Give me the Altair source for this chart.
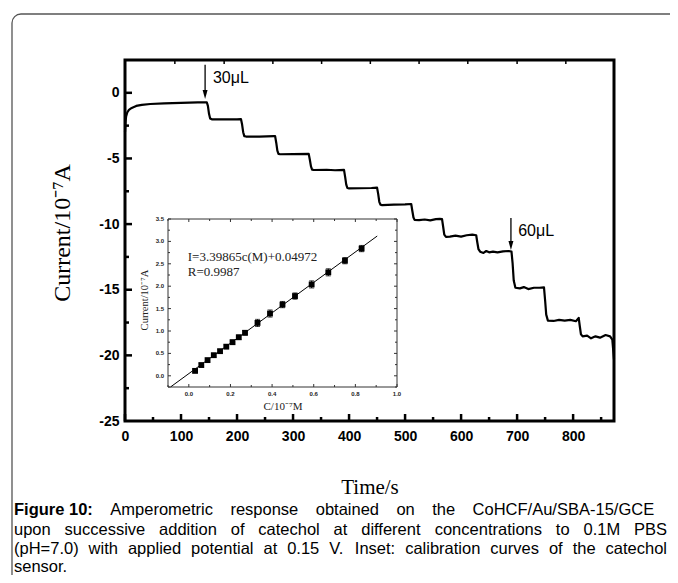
import altair as alt
import pandas as pd

# ---------------- data ----------------
time_s = [0, 1, 2, 4, 7, 12, 20, 30, 45, 70, 100, 130, 146,
          148, 150, 152, 155, 175, 200, 207,
          209, 211, 213, 216, 240, 266, 268,
          270, 272, 274, 277, 300, 328,
          330, 332, 334, 337, 360, 375, 391,
          393, 395, 397, 400, 420, 440, 450,
          452, 454, 456, 459, 480, 500, 511,
          513, 515, 517, 525, 535, 545, 555, 562, 566,
          568, 570, 573, 580, 590, 600, 610, 620, 627,
          629, 631, 634, 640, 645, 650, 657, 665, 675, 685, 690,
          692, 694, 697, 705, 712, 720, 730, 740, 748,
          750, 752, 755, 765, 775, 785, 795, 805, 810,
          812, 814, 817, 825, 832, 840, 848, 858, 866, 870, 873]
current = [-3.0, -2.2, -1.8, -1.5, -1.3, -1.15, -1.0, -0.92, -0.85, -0.8, -0.76, -0.73, -0.72,
           -1.0, -1.6, -1.95, -2.02, -2.03, -2.02, -2.0,
           -2.4, -3.0, -3.3, -3.33, -3.33, -3.3, -3.3,
           -3.8, -4.4, -4.65, -4.68, -4.67, -4.65,
           -5.1, -5.6, -5.85, -5.88, -5.86, -5.9, -5.87,
           -6.4, -7.0, -7.25, -7.28, -7.27, -7.25, -7.22,
           -7.7, -8.3, -8.52, -8.55, -8.52, -8.5, -8.47,
           -9.0, -9.5, -9.68, -9.7, -9.65, -9.72, -9.62, -9.6, -9.62,
           -10.2, -10.8, -10.97, -10.95, -10.88, -10.95, -10.85, -10.8, -10.85,
           -11.4, -11.9, -12.1, -12.2, -12.05, -12.15, -12.1, -12.15, -12.08, -12.05, -12.1,
           -13.0, -14.3, -14.85, -14.9, -14.8, -14.95, -14.85, -14.85, -14.82,
           -15.8, -16.9, -17.35, -17.38, -17.3, -17.35, -17.3, -17.4, -17.15,
           -17.8, -18.4, -18.55, -18.5, -18.7, -18.55, -18.65, -18.45, -18.55, -18.8, -20.3]

x_major = [0, 100, 200, 300, 400, 500, 600, 700, 800]
x_minor = [50, 150, 250, 350, 450, 550, 650, 750, 850]
x_top_ticks = [89, 177, 264, 351, 438, 525, 612, 700, 787]
y_major = [0, -5, -10, -15, -20]
y_label_values = [0, -5, -10, -15, -20, -25]
y_minor = [-2.5, -7.5, -12.5, -17.5, -22.5]

arrow_t = [143, 689]
arrow_top = [2.13, -9.53]
arrow_tip = [-0.12, -11.63]
arrow_text = ["30\u03bcL", "60\u03bcL"]
arrow_text_t = [157, 702]
arrow_text_i = [1.14, -10.52]

# inset calibration data
conc = [0.03, 0.06, 0.09, 0.12, 0.15, 0.18, 0.21, 0.24, 0.27,
        0.33, 0.39, 0.45, 0.51, 0.59, 0.67, 0.75, 0.83]
resp = [0.11, 0.24, 0.35, 0.46, 0.55, 0.65, 0.75, 0.86, 0.96,
        1.18, 1.39, 1.59, 1.78, 2.04, 2.31, 2.57, 2.84]
err = [0.04, 0.04, 0.04, 0.04, 0.04, 0.04, 0.05, 0.05, 0.05,
       0.08, 0.08, 0.07, 0.07, 0.08, 0.08, 0.07, 0.07]
fit_c = [-0.088, 0.905]
fit_i = [-0.25, 3.12]
ix_major = [0.0, 0.2, 0.4, 0.6, 0.8, 1.0]
ix_minor = [-0.1, 0.1, 0.3, 0.5, 0.7, 0.9]
iy_major = [0.0, 0.5, 1.0, 1.5, 2.0, 2.5, 3.0, 3.5]
iy_minor = [-0.25, 0.25, 0.75, 1.25, 1.75, 2.25, 2.75, 3.25]

caption_bold = ["Figure", "10:"]
caption_lines = [
    "Amperometric response obtained on the CoHCF/Au/SBA-15/GCE",
    "upon successive addition of catechol at different concentrations to 0.1M PBS",
    "(pH=7.0) with applied potential at 0.15 V. Inset: calibration curves of the catechol",
    "sensor.",
]

# ---------------- layout ----------------
W, H = 489, 361
PL, PT = 117, 52
IX0, IX1 = 43, 272      # inset box, px inside plot
IY0, IY1 = 327, 159

SANS = "Liberation Sans"
SERIF = "Liberation Serif"

xs = alt.Scale(domain=[0, 873], nice=False, zero=False)
ys = alt.Scale(domain=[-25, 2.5], nice=False, zero=False)
x_axis = alt.Axis(values=x_major, labelFont=SANS, labelFontWeight="bold", labelFontSize=14,
                  labelColor="black", ticks=False, domain=False, grid=False, labelPadding=8,
                  labelFlush=False, labelOverlap=False, title=None, labelExpr="datum.value + ''")
y_axis = alt.Axis(values=y_label_values, labelFont=SANS, labelFontWeight="bold", labelFontSize=14,
                  labelColor="black", ticks=False, domain=False, grid=False, labelPadding=6,
                  labelOverlap=False, title=None, labelExpr="datum.value + ''")


def xm(f):
    return alt.X(f, type="quantitative", scale=xs, axis=x_axis)


def ym(f):
    return alt.Y(f, type="quantitative", scale=ys, axis=y_axis)


isx = alt.Scale(domain=[-0.1, 1.0], range=[IX0, IX1], nice=False, zero=False)
isy = alt.Scale(domain=[-0.25, 3.5], range=[IY0, IY1], nice=False, zero=False)


def xi(f):
    return alt.X(f, type="quantitative", scale=isx, axis=None)


def yi(f):
    return alt.Y(f, type="quantitative", scale=isy, axis=None)


def txt(s, x, y, size, font=SANS, weight="normal", align="left", angle=0, color="black"):
    return alt.Chart(pd.DataFrame({"s": [s]})).mark_text(
        font=font, fontSize=size, fontWeight=weight, align=align, baseline="middle",
        angle=angle, color=color
    ).encode(text="s:N", x=alt.value(x), y=alt.value(y))


# ---------------- justified caption (Arial / Liberation Sans metrics) ----------------
REG = {' ': 278, '(': 333, ')': 333, '+': 584, ',': 278, '-': 333, '.': 278, '/': 278, ':': 278,
       '=': 584, 'A': 667, 'B': 667, 'C': 722, 'E': 667, 'F': 611, 'G': 778, 'H': 722, 'I': 278,
       'M': 833, 'P': 667, 'S': 667, 'V': 667,
       'a': 556, 'b': 556, 'c': 500, 'd': 556, 'e': 556, 'f': 278, 'g': 556, 'h': 556, 'i': 222,
       'l': 222, 'm': 833, 'n': 556, 'o': 556, 'p': 556, 'r': 333, 's': 500, 't': 278, 'u': 556,
       'v': 500, 'w': 722, 'y': 500}
BOLD = {'F': 611, 'i': 278, 'g': 611, 'u': 611, 'r': 389, 'e': 556, ':': 333}
CAP_SIZE = 16.5
CAP_LEFT = -111
CAP_RIGHT = 542
CAP_Y = [450, 470, 489, 507]


def wwidth(word, bold=False):
    tot = 0
    for ch in word:
        if ch.isdigit():
            tot += 556
        elif bold:
            tot += BOLD.get(ch, 600)
        else:
            tot += REG.get(ch, 556)
    return tot / 1000 * CAP_SIZE


caption_layers = []
for k, line in enumerate(caption_lines):
    words = [(w, True) for w in caption_bold] if k == 0 else []
    words += [(w, False) for w in line.split(" ")]
    widths = [wwidth(w, b) for w, b in words]
    if k < len(caption_lines) - 1:
        gap = (CAP_RIGHT - CAP_LEFT - sum(widths)) / (len(words) - 1)
    else:
        gap = REG[' '] / 1000 * CAP_SIZE
    x = CAP_LEFT
    for j, ((w, b), wd) in enumerate(zip(words, widths)):
        caption_layers.append(txt(w, x, CAP_Y[k], CAP_SIZE, weight="bold" if b else "normal"))
        # bold "Figure 10:" keeps a normal space inside it
        if k == 0 and j == 0:
            x += wd + REG[' '] / 1000 * CAP_SIZE
        else:
            x += wd + gap

# ---------------- main layers ----------------
trace = alt.Chart(pd.DataFrame({"t": time_s, "i": current})).mark_line(
    color="black", strokeWidth=2.2, strokeJoin="round").encode(x=xm("t"), y=ym("i"), order="t:Q")

ymaj = alt.Chart(pd.DataFrame({"i": y_major})).mark_rule(color="black", strokeWidth=2.5).encode(
    y=ym("i"), x=alt.value(0), x2=alt.value(7))
ymin = alt.Chart(pd.DataFrame({"i": y_minor})).mark_rule(color="black", strokeWidth=2.5).encode(
    y=ym("i"), x=alt.value(0), x2=alt.value(4))
xmaj = alt.Chart(pd.DataFrame({"t": x_major})).mark_rule(color="black", strokeWidth=2.5).encode(
    x=xm("t"), y=alt.value(H), y2=alt.value(H - 7))
xmin = alt.Chart(pd.DataFrame({"t": x_minor})).mark_rule(color="black", strokeWidth=2.5).encode(
    x=xm("t"), y=alt.value(H), y2=alt.value(H - 4))
xtop = alt.Chart(pd.DataFrame({"t": x_top_ticks})).mark_rule(color="black", strokeWidth=1.5).encode(
    x=xm("t"), y=alt.value(0), y2=alt.value(4))

adf = pd.DataFrame({"t": arrow_t, "top": arrow_top, "tip": arrow_tip})
arrows = alt.Chart(adf).mark_rule(color="black", strokeWidth=1.3).encode(
    x=xm("t"), y=ym("top"), y2=alt.Y2("tip"))
heads = alt.Chart(adf).mark_point(shape="M-0.55,-1L0.55,-1L0,1Z", filled=True, size=81,
                                  color="black", opacity=1).encode(x=xm("t"), y=ym("tip"))
alabels = alt.Chart(pd.DataFrame({"t": arrow_text_t, "i": arrow_text_i, "s": arrow_text})).mark_text(
    font=SANS, fontSize=16, align="left", baseline="middle", color="black").encode(
    x=xm("t"), y=ym("i"), text="s:N")

frame = alt.Chart(pd.DataFrame({"a": [0]})).mark_rect(
    fillOpacity=0, stroke="#555555", strokeWidth=1.3, cornerRadius=9).encode(
    x=alt.value(-113), x2=alt.value(600), y=alt.value(-46), y2=alt.value(560))

ytitle = txt("Current/10\u207b\u2077A", -62, 173, 24, font=SERIF, align="center", angle=270)
xtitle = txt("Time/s", 245, 428, 21, font=SERIF, align="center")

main = alt.layer(frame, trace, ymaj, ymin, xmaj, xmin, xtop, arrows, heads, alabels,
                 ytitle, xtitle, *caption_layers)

# ---------------- inset layers ----------------
box = alt.Chart(pd.DataFrame({"x1": [-0.1], "x2": [1.0], "y1": [-0.25], "y2": [3.5]})).mark_rect(
    fill="white", stroke="#333333", strokeWidth=1).encode(
    x=xi("x1"), x2=alt.X2("x2"), y=yi("y1"), y2=alt.Y2("y2"))

fit = alt.Chart(pd.DataFrame({"c": fit_c, "i": fit_i})).mark_line(color="black", strokeWidth=1).encode(
    x=xi("c"), y=yi("i"))

pdf = pd.DataFrame({"c": conc, "i": resp, "lo": [r - e for r, e in zip(resp, err)],
                    "hi": [r + e for r, e in zip(resp, err)]})
ebar = alt.Chart(pdf).mark_rule(color="black", strokeWidth=1).encode(x=xi("c"), y=yi("lo"), y2=alt.Y2("hi"))
cap_lo = alt.Chart(pdf).mark_tick(color="black", orient="horizontal", size=5, thickness=1).encode(
    x=xi("c"), y=yi("lo"))
cap_hi = alt.Chart(pdf).mark_tick(color="black", orient="horizontal", size=5, thickness=1).encode(
    x=xi("c"), y=yi("hi"))
pts = alt.Chart(pdf).mark_square(color="black", filled=True, opacity=1, size=34).encode(
    x=xi("c"), y=yi("i"))


def itick_x(vals, ln):
    d = pd.DataFrame({"c": vals})
    b = alt.Chart(d).mark_rule(color="#333333", strokeWidth=1).encode(
        x=xi("c"), y=alt.value(IY0), y2=alt.value(IY0 - ln))
    t = alt.Chart(d).mark_rule(color="#333333", strokeWidth=1).encode(
        x=xi("c"), y=alt.value(IY1), y2=alt.value(IY1 + ln))
    return [b, t]


def itick_y(vals, ln):
    d = pd.DataFrame({"i": vals})
    l = alt.Chart(d).mark_rule(color="#333333", strokeWidth=1).encode(
        y=yi("i"), x=alt.value(IX0), x2=alt.value(IX0 + ln))
    r = alt.Chart(d).mark_rule(color="#333333", strokeWidth=1).encode(
        y=yi("i"), x=alt.value(IX1), x2=alt.value(IX1 - ln))
    return [l, r]


itk = itick_x(ix_major, 3) + itick_x(ix_minor, 2) + itick_y(iy_major, 3) + itick_y(iy_minor, 2)

ixlab = alt.Chart(pd.DataFrame({"c": ix_major, "s": [f"{v:.1f}" for v in ix_major]})).mark_text(
    font=SANS, fontSize=6, fontWeight="bold", align="center", baseline="top", color="#222222").encode(
    x=xi("c"), y=alt.value(IY0 + 4), text="s:N")
iylab = alt.Chart(pd.DataFrame({"i": iy_major, "s": [f"{v:.1f}" for v in iy_major]})).mark_text(
    font=SANS, fontSize=6, fontWeight="bold", align="right", baseline="middle", color="#222222").encode(
    y=yi("i"), x=alt.value(IX0 - 4), text="s:N")

eq = alt.Chart(pd.DataFrame({"c": [-0.005, -0.005], "i": [2.65, 2.31],
                             "s": ["I=3.39865c(M)+0.04972", "R=0.9987"]})).mark_text(
    font=SERIF, fontSize=13, align="left", baseline="middle", color="#222222").encode(
    x=xi("c"), y=yi("i"), text="s:N")

iytitle = txt("Current/10\u207b\u2077A", 20, 240, 10.5, font=SERIF, align="center", angle=270,
              color="#222222")
ixtitle = txt("C/10\u207b\u2077M", 158, 347, 11, font=SERIF, align="center", color="#222222")

inset = alt.layer(box, fit, ebar, cap_lo, cap_hi, pts, *itk, ixlab, iylab, eq, iytitle, ixtitle)

chart = alt.layer(main, inset).resolve_scale(x="independent", y="independent").properties(
    width=W, height=H,
    autosize=alt.AutoSizeParams(type="none"),
    padding={"left": PL, "top": PT, "right": 56, "bottom": 154},
    background="white",
).configure_view(stroke="black", strokeWidth=3)

chart.save("out.html", embed_options={"renderer": "svg", "actions": False})
